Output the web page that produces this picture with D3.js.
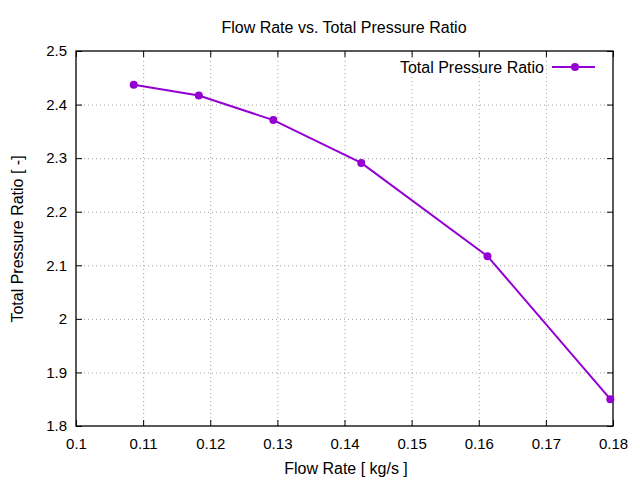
<!DOCTYPE html>
<html>
<head>
<meta charset="utf-8">
<script src="https://cdn.jsdelivr.net/npm/d3@7"></script>
<style>
  body { margin: 0; background: #fff; }
  svg { font-family: "Liberation Sans", Arial, sans-serif; }
  .grid line { stroke: #a0a0a0; stroke-width: 1; stroke-dasharray: 1,3; }
  .grid path { display: none; }
</style>
</head>
<body>
<svg width="640" height="480"></svg>
<script>
const flowRate = [0.1086, 0.1183, 0.1294, 0.1425, 0.1613, 0.1796];
const pressureRatio = [2.437, 2.417, 2.371, 2.291, 2.117, 1.850];
const xTicks = [0.1, 0.11, 0.12, 0.13, 0.14, 0.15, 0.16, 0.17, 0.18];
const yTicks = [1.8, 1.9, 2, 2.1, 2.2, 2.3, 2.4, 2.5];

const color = '#9400d3';
const plotLeft = 76, plotRight = 613, plotTop = 51, plotBottom = 426;

const svg = d3.select('svg');

const x = d3.scaleLinear().domain([0.1, 0.18]).range([plotLeft, plotRight]);
const y = d3.scaleLinear().domain([1.8, 2.5]).range([plotBottom, plotTop]);

// dotted grid
svg.append('g').attr('class', 'grid')
  .attr('transform', `translate(0, ${plotBottom})`)
  .call(d3.axisBottom(x).tickValues(xTicks.slice(1, -1)).tickSize(-(plotBottom - plotTop)).tickFormat(''));
svg.append('g').attr('class', 'grid')
  .attr('transform', `translate(${plotLeft}, 0)`)
  .call(d3.axisLeft(y).tickValues(yTicks.slice(1, -1)).tickSize(-(plotRight - plotLeft)).tickFormat(''));

// axes with inward ticks (mirrored)
const styleAxis = g => {
  g.select('.domain').remove();
  g.selectAll('line').attr('stroke', '#000');
  g.selectAll('text').attr('font-size', 15).attr('fill', '#000');
};
svg.append('g')
  .attr('transform', `translate(0, ${plotBottom})`)
  .call(d3.axisBottom(x).tickValues(xTicks).tickSize(-6).tickPadding(12).tickFormat(d3.format('')))
  .call(styleAxis);
svg.append('g')
  .attr('transform', `translate(0, ${plotTop})`)
  .call(d3.axisTop(x).tickValues(xTicks).tickSize(-6).tickFormat(''))
  .call(styleAxis);
svg.append('g')
  .attr('transform', `translate(${plotLeft}, 0)`)
  .call(d3.axisLeft(y).tickValues(yTicks).tickSize(-6).tickPadding(9).tickFormat(d3.format('')))
  .call(styleAxis);
svg.append('g')
  .attr('transform', `translate(${plotRight}, 0)`)
  .call(d3.axisRight(y).tickValues(yTicks).tickSize(-6).tickFormat(''))
  .call(styleAxis);

svg.append('rect')
  .attr('x', plotLeft).attr('y', plotTop)
  .attr('width', plotRight - plotLeft).attr('height', plotBottom - plotTop)
  .attr('fill', 'none').attr('stroke', '#000').attr('stroke-width', 1.3);

// series
const data = flowRate.map((f, i) => ({ f, p: pressureRatio[i] }));
svg.append('path')
  .datum(data)
  .attr('fill', 'none')
  .attr('stroke', color)
  .attr('stroke-width', 2)
  .attr('d', d3.line().x(d => x(d.f)).y(d => y(d.p)));
svg.selectAll('.pt')
  .data(data)
  .enter()
  .append('circle')
  .attr('cx', d => x(d.f))
  .attr('cy', d => y(d.p))
  .attr('r', 4)
  .attr('fill', color);

// titles
svg.append('text')
  .attr('x', 344).attr('y', 33)
  .attr('text-anchor', 'middle')
  .attr('font-size', 16)
  .text('Flow Rate vs. Total Pressure Ratio');
svg.append('text')
  .attr('x', 346).attr('y', 474)
  .attr('text-anchor', 'middle')
  .attr('font-size', 16)
  .text('Flow Rate [ kg/s ]');
svg.append('text')
  .attr('transform', 'translate(23, 239) rotate(-90)')
  .attr('text-anchor', 'middle')
  .attr('font-size', 16)
  .text('Total Pressure Ratio [ -]');

// legend
svg.append('text')
  .attr('x', 544).attr('y', 73)
  .attr('text-anchor', 'end')
  .attr('font-size', 16)
  .text('Total Pressure Ratio');
svg.append('line')
  .attr('x1', 552).attr('x2', 595).attr('y1', 67).attr('y2', 67)
  .attr('stroke', color).attr('stroke-width', 2);
svg.append('circle')
  .attr('cx', 575).attr('cy', 67).attr('r', 4).attr('fill', color);
</script>
</body>
</html>
